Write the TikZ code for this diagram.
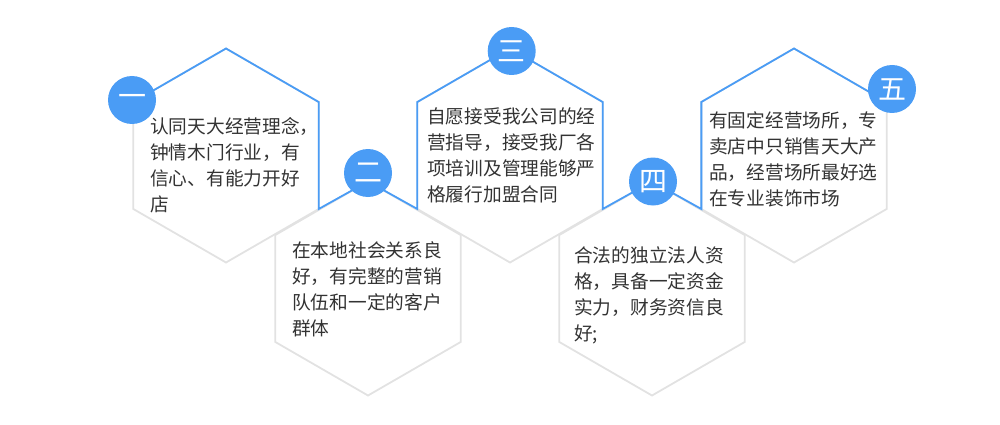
\documentclass[tikz,border=0pt]{standalone}
\usepackage{fontspec}
\setmainfont{Noto Sans CJK SC}
\definecolor{hexblue}{HTML}{4A9CF5}
\definecolor{hexgray}{HTML}{E2E2E2}
\definecolor{txt}{HTML}{333333}
\begin{document}
\begin{tikzpicture}[x=1pt,y=-1pt,
  grayline/.style={draw=hexgray,line width=1.8pt,line join=miter},
  blueline/.style={draw=hexblue,line width=1.8pt,line join=miter},
  numdot/.style={circle,fill=hexblue,minimum size=48pt,inner sep=0pt,text=white,font=\fontsize{28}{28}\selectfont},
  body/.style={anchor=north west,inner sep=0pt,align=left,text=txt,font=\fontsize{18.7}{26}\selectfont}]
\useasboundingbox (0,0) rectangle (1000,425);
\foreach \i/\cx/\cy in {1/226/155.5,2/368/288.5,3/510/155.5,4/652/288.5,5/794/155.5}{
  \coordinate (h\i-t)  at (\cx,\cy-107);
  \coordinate (h\i-ur) at (\cx+92.66,\cy-53.5);
  \coordinate (h\i-lr) at (\cx+92.66,\cy+53.5);
  \coordinate (h\i-b)  at (\cx,\cy+107);
  \coordinate (h\i-ll) at (\cx-92.66,\cy+53.5);
  \coordinate (h\i-ul) at (\cx-92.66,\cy-53.5);
}
\foreach \i in {1,...,5}{
  \draw[grayline] (h\i-t) -- (h\i-ur) -- (h\i-lr) -- (h\i-b) -- (h\i-ll) -- (h\i-ul) -- cycle;
}
\draw[blueline] (h1-ul) -- (h1-t) -- (h1-ur) -- (h1-lr) -- (h2-t) -- (h3-ll) -- (h3-ul) -- (h3-t) -- (h3-ur) -- (h3-lr) -- (h4-t) -- (h5-ll) -- (h5-ul) -- (h5-t) -- (h5-ur);
\node[numdot] (n1) at (132,100) {一};
\node[numdot] (n2) at (368,173) {二};
\node[numdot] (n3) at (511.7,51) {三};
\node[numdot] (n4) at (653,181.5) {四};
\node[numdot] (n5) at (892,89) {五};
\node[body] (t1) at (150,117) {认同天大经营理念，\\钟情木门行业，有\\信心、有能力开好\\店};
\node[body] (t2) at (292,241) {在本地社会关系良\\好，有完整的营销\\队伍和一定的客户\\群体};
\node[body] (t3) at (427,107.7) {自愿接受我公司的经\\营指导，接受我厂各\\项培训及管理能够严\\格履行加盟合同};
\node[body] (t4) at (574,246) {合法的独立法人资\\格，具备一定资金\\实力，财务资信良\\好;};
\node[body] (t5) at (709,111) {有固定经营场所，专\\卖店中只销售天大产\\品，经营场所最好选\\在专业装饰市场};
\end{tikzpicture}
\end{document}
